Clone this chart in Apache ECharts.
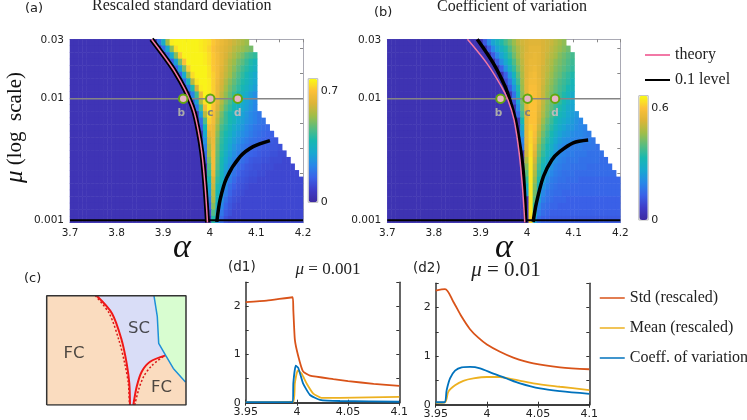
<!DOCTYPE html>
<html>
<head>
<meta charset="utf-8">
<style>html,body{margin:0;padding:0;background:#fff}#main{width:747px;height:420px}</style>
<script src="https://cdn.jsdelivr.net/npm/echarts@6/dist/echarts.min.js"></script>
</head>
<body>
<div id="main"></div>
<script>
// heat map grid: 56 alpha columns, 28 mu rows (row 0 = top). values are hundredths
var colCount = 56;
var rowCount = 28;
var maxA = 0.78, maxB = 0.665;

// left of the onset every cell sits on this low level
var baseA = 4;
var baseB = 3;

var startA = [21,22,23,24,25,26,27,28,29,29,30,31,31,31,32,32,32,32,32,33,33,33,33,33,33,33,33,34];
var rowsA = [
  [20,34,55,76,77,77,77,77,77,77,76,75,74,71,68,66,64,62,60,58,56,54],
  [18,32,52,74,77,77,77,77,77,76,75,73,70,67,65,63,61,58,56,54,52,50],
  [18,32,52,72,77,77,77,77,77,76,74,71,68,65,62,59,56,53,50,46,44,42],
  [16,30,50,70,77,77,77,77,76,74,71,68,65,61,57,54,50,47,43,40,37],
  [16,30,50,72,77,77,77,77,75,71,68,64,60,56,52,48,44,41,38,35],
  [16,32,54,74,77,77,77,75,72,68,63,59,55,50,46,42,38,35,32],
  [18,36,58,75,77,77,76,72,67,62,57,52,48,44,40,37,34,31],
  [20,40,62,76,77,76,72,66,61,55,50,46,42,38,35,32,29],
  [22,44,66,77,76,72,66,59,53,48,43,38,35,32,28,25],
  [12,30,56,74,76,71,64,57,50,45,40,36,33,30,27,24],
  [20,44,68,76,70,62,54,47,42,38,35,32,29,26,23],
  [30,58,75,68,59,50,43,39,36,33,30,27,24,22,20],
  [18,46,72,68,57,48,43,39,36,32,29,26,24,22,20,19],
  [14,38,68,66,54,45,41,37,33,30,27,24,22,20,19,18,17],
  [32,64,66,52,43,39,35,31,28,25,23,21,19,18,17,16,15],
  [26,60,66,50,42,37,33,29,26,23,21,19,18,17,16,15,14,13],
  [22,56,67,49,41,36,31,27,24,21,19,17,16,15,14,14,13,13,12],
  [18,54,68,48,40,34,29,25,22,19,17,16,15,14,13,13,12,12,11,11],
  [14,50,68,47,39,32,27,23,20,18,16,14,13,13,12,12,11,11,11,10,10],
  [46,68,46,38,30,25,21,18,16,14,13,12,12,11,11,11,10,10,10,10,10],
  [42,66,44,37,28,23,19,16,14,13,12,12,11,11,10,10,10,10,10,10,10,10],
  [38,62,42,35,26,21,17,14,13,12,11,11,10,10,10,10,10,10,10,10,10,10,10],
  [32,60,40,32,24,18,15,13,12,11,10,10,10,10,10,10,10,10,10,10,10,10,10],
  [28,58,38,29,21,16,13,12,11,10,10,10,10,10,10,10,10,10,10,10,10,10,10],
  [22,56,36,26,18,14,12,11,10,10,10,10,10,10,10,10,10,10,10,10,10,10,10],
  [16,52,34,23,16,13,11,10,10,10,10,10,10,10,10,10,10,10,10,10,10,10,10],
  [10,46,30,20,14,12,10,10,10,10,10,10,10,10,10,10,10,10,10,10,10,10,10],
  [40,26,17,12,10,10,10,10,10,10,10,10,10,10,10,10,10,10,10,10,10,10]
];

var startB = [23,24,25,26,27,28,28,29,30,30,31,31,32,32,32,32,32,33,33,33,33,33,33,33,34,34,34,34];
var rowsB = [
  [12,20,26,30,34,38,42,46,50,52,53,54,54,54,53,52,51,49,47,45],
  [12,20,26,30,34,39,44,48,51,53,55,55,55,53,52,50,48,46,44,42],
  [12,20,26,31,36,42,47,51,54,55,56,55,53,51,49,47,44,42,40,38],
  [12,21,27,33,39,45,50,54,56,56,55,53,50,48,45,43,41,39,37],
  [13,22,29,36,43,49,54,56,57,55,52,50,47,44,42,40,38,36],
  [13,23,31,40,48,54,57,58,55,52,49,46,43,41,38,36,34],
  [9,17,27,37,47,55,58,58,56,52,48,45,42,39,37,35,32],
  [12,22,34,46,55,59,59,56,51,47,44,41,38,36,33,31],
  [16,30,45,55,60,59,56,51,46,43,40,37,34,31,28],
  [11,26,43,55,60,60,56,50,45,42,39,36,33,30,27],
  [21,41,55,60,60,55,49,44,41,37,34,31,28,26],
  [15,38,55,60,60,54,48,43,39,35,32,30,27,25,23],
  [33,55,60,60,53,46,41,37,33,30,28,26,24,22,20],
  [28,55,61,60,51,44,39,35,31,28,26,24,23,21,20,19],
  [24,55,62,59,49,42,37,33,29,26,24,23,21,20,20,19,18],
  [20,55,62,58,47,40,35,31,27,24,22,21,20,19,19,18,18,17],
  [18,54,63,56,44,38,33,29,25,22,20,19,18,18,18,17,17,17,16],
  [52,63,54,42,36,31,27,23,20,19,18,18,17,17,17,16,16,16,16],
  [48,64,52,40,34,29,24,21,19,18,17,17,17,16,16,16,16,16,15,15],
  [44,64,50,38,32,27,22,19,18,17,17,16,16,16,16,15,15,15,15,15,15],
  [40,64,48,36,29,24,20,18,17,16,16,16,15,15,15,15,15,15,15,15,15,15],
  [36,64,46,34,26,21,18,17,16,16,15,15,15,14,14,14,14,14,14,14,14,14,14],
  [30,64,44,31,23,19,17,16,15,15,15,14,14,14,14,14,14,14,14,14,14,14,14],
  [24,64,42,28,20,17,16,15,15,14,14,14,14,14,14,14,14,14,14,14,14,14,14],
  [64,40,24,18,16,15,14,14,14,13,13,13,13,13,13,13,13,13,13,13,13,13],
  [64,36,20,16,15,14,14,13,13,13,13,13,13,13,13,13,13,13,13,13,13,13],
  [64,32,18,15,14,13,13,13,13,13,13,13,13,13,13,13,13,13,13,13,13,13],
  [62,26,15,13,13,12,12,12,12,12,12,12,12,12,12,12,12,12,12,12,12,12]
];

var heatColors = ['#3e2ba0','#3f3dc8','#3a62e8','#2888e8','#18a8d0','#18b8b0','#58bc80','#a0bd48','#dcb438','#fcc038','#f9fb15'];

// curves in (a), (b)
var theoryAlphaA = [3.875,3.903,3.925,3.947,3.965,3.975,3.983,3.99,3.995];
var theoryMuA = [0.0308,0.0221,0.0167,0.0118,0.00807,0.00553,0.00357,0.00188,0.00096];
var levelAlphaA = [4.015,4.022,4.036,4.065,4.093,4.129];
var levelMuA = [0.00097,0.00147,0.00223,0.00333,0.00403,0.00452];

var theoryAlphaB = [3.872,3.913,3.945,3.959,3.972,3.983,3.99,3.995];
var theoryMuB = [0.0308,0.0197,0.01256,0.00976,0.00668,0.00357,0.00188,0.00096];
var blackAlphaB = [3.893,3.927,3.953,3.963,3.975,3.985,3.992,3.997];
var blackMuB = [0.0308,0.0197,0.01256,0.00976,0.00668,0.00403,0.00245,0.00096];
var levelAlphaB = [4.013,4.02,4.035,4.053,4.07,4.099,4.131];
var levelMuB = [0.00097,0.00139,0.00229,0.00313,0.00366,0.00433,0.00457];

var sliceAlpha = [3.7,4.2];
var markAlpha = [3.943,4.001,4.06];
var markNames = ['b','c','d'];
var markColors = ['#aaaaaa','#808080','#bbbbbb'];
var muTicks = [0.001,0.01,0.03];
var muRightTicks = [-2.617,-2.411,-2.206,-2,-1.794,-1.589]; // log10 mu, gray ticks on the right edge

// schematic (c), both axes 0..100
var cRegions = [
  {color:'#fadcbf', pts:[[0,0],[59.8,0],[59.3,19.8],[57.4,38.1],[53.8,59.5],[46.9,83.8],[35.9,100],[0,100]]},
  {color:'#d9ddf7', pts:[[59.8,0],[62.2,0],[64.6,16.8],[68.2,30.5],[74.2,39.6],[85.4,45.4],[80.4,56.4],[79.4,80.8],[77,100],[35.9,100],[46.9,83.8],[53.8,59.5],[57.4,38.1],[59.3,19.8]]},
  {color:'#fadcbf', pts:[[62.2,0],[100,0],[100,21],[90.9,33.5],[85.4,45.4],[74.2,39.6],[68.2,30.5],[64.6,16.8]]},
  {color:'#d8fdd0', pts:[[77,100],[100,100],[100,21],[90.9,33.5],[85.4,45.4],[80.4,56.4],[79.4,80.8]]}
];
var cRedLeft = [[35.9,100],[46.9,83.8],[53.8,59.5],[57.4,38.1],[59.3,19.8],[59.8,0]];
var cRedLeftDash = [[34.9,100],[44.9,83.8],[51.8,59.5],[56,38.1],[58.6,19.8],[59.4,0]];
var cRedRight = [[62.2,0],[64.6,16.8],[68.2,30.5],[74.2,39.6],[85.4,45.4]];
var cRedRightDash = [[63.2,0],[66,14],[69.6,26],[75.4,36],[84,44.6]];
var cBlue = [[77,100],[79.4,80.8],[80.4,56.4],[85.4,45.4],[90.9,33.5],[99.6,21]];
var cBox = [[0,0],[100,0],[100,100],[0,100],[0,0]];
var cLabels = [['FC',19.6,46.9],['SC',66.3,69.5],['FC',82.5,15.8]];

// (d1) mu = 0.001
var d1StdX = [3.95,3.9705,3.9959,3.9965,3.998,4.0014,4.006,4.0128,4.0356,4.05,4.075,4.1];
var d1StdY = [2.09,2.12,2.19,1.93,1.31,0.96,0.65,0.56,0.49,0.45,0.39,0.35];
var d1MeanX = [3.95,3.9965,3.998,4.0008,4.0047,4.0095,4.016,4.024,4.042,4.1];
var d1MeanY = [0.01,0.02,0.40,0.67,0.60,0.40,0.19,0.10,0.10,0.12];
var d1CovX = [3.95,3.996,3.9965,3.9988,4.0014,4.006,4.0128,4.0226,4.042,4.1];
var d1CovY = [0.01,0.01,0.40,0.77,0.72,0.40,0.16,0.06,0.035,0.02];

// (d2) mu = 0.01
var d2StdX = [3.95,3.9591,3.9672,3.9754,3.9835,3.9916,4.0,4.0128,4.0258,4.0453,4.0714,4.1];
var d2StdY = [2.35,2.38,2.12,1.81,1.555,1.38,1.24,1.09,0.97,0.85,0.77,0.73];
var d2MeanX = [3.95,3.9591,3.9624,3.9689,3.977,3.9868,4.0,4.0128,4.0258,4.0453,4.0714,4.1];
var d2MeanY = [0.04,0.05,0.27,0.40,0.49,0.54,0.57,0.57,0.52,0.44,0.37,0.30];
var d2CovX = [3.95,3.9585,3.9607,3.964,3.9689,3.9754,3.9835,3.9933,4.0063,4.0193,4.0323,4.0518,4.0714,4.1];
var d2CovY = [0.05,0.05,0.30,0.54,0.70,0.77,0.78,0.75,0.64,0.54,0.44,0.335,0.28,0.225];

var sans = 'DejaVu Sans';
var serif = 'Liberation Serif';
var ink = '#222';
var frame = '#a9a9b4';

function zip(xs, ys) {
  var out = [];
  for (var i = 0; i < xs.length; i++) out.push([xs[i], ys[i]]);
  return out;
}
function logPts(alpha, mu) {
  return zip(alpha, mu.map(Math.log10));
}
function heatCells(base, start, rows) {
  var cells = [];
  for (var r = 0; r < rowCount; r++) {
    for (var c = 0; c < start[r]; c++) cells.push([c, r, base / 100]);
    for (var k = 0; k < rows[r].length; k++) cells.push([start[r] + k, r, rows[r][k] / 100]);
  }
  return cells;
}
function range(n) {
  var a = [];
  for (var i = 0; i < n; i++) a.push(i);
  return a;
}

var myChart = echarts.init(document.getElementById('main'));

var grids = [
  {left:70, top:39.3, width:233, height:183.4},   // 0 heat a
  {left:70, top:39.3, width:233, height:183.4},   // 1 lines a
  {left:308.2, top:78.7, width:9.6, height:123.6, show:true, borderColor:'#b8b8b8', borderWidth:1},// 2 colorbar a
  {left:387.3, top:39.3, width:233, height:183.4},// 3 heat b
  {left:387.3, top:39.3, width:233, height:183.4},// 4 lines b
  {left:638.8, top:95.7, width:9.4, height:124.3, show:true, borderColor:'#b8b8b8', borderWidth:1},// 5 colorbar b
  {left:46.7, top:295.7, width:139.3, height:109.3}, // 6 schematic
  {left:245.7, top:282.3, width:153.6, height:120.4},// 7 d1
  {left:435.7, top:283.3, width:153.6, height:121.4} // 8 d2
];

function hidden(o) {
  o.axisLine = {show:false}; o.axisTick = {show:false}; o.axisLabel = {show:false}; o.splitLine = {show:false};
  return o;
}
function alphaAxis(idx, nudge) {
  return {
    type:'value', gridIndex:idx, min:3.7, max:4.2, interval:0.1,
    name:'α', nameLocation:'middle', nameGap:8, nameMoveOverlap:false,
    nameTextStyle:{fontFamily:serif, fontStyle:'italic', fontSize:34, color:'#111', padding:[0,nudge,0,0]},
    axisLine:{lineStyle:{color:frame, width:1}}, axisTick:{show:false}, splitLine:{show:false},
    axisLabel:{fontFamily:sans, fontSize:10.5, color:ink, margin:5, formatter:function(v){return v.toFixed(v===4?0:1);}}
  };
}
function alphaTop(idx) {
  return {
    type:'value', gridIndex:idx, position:'top', min:3.7, max:4.2, interval:0.05,
    axisLine:{lineStyle:{color:frame, width:1}}, axisLabel:{show:false}, splitLine:{show:false},
    axisTick:{inside:true, length:3, lineStyle:{color:'#888'}}
  };
}
function muAxis(idx, withName) {
  var o = {
    type:'value', gridIndex:idx, min:-3.02, max:-1.512,
    axisLine:{show:false}, axisTick:{show:false}, splitLine:{show:false},
    axisLabel:{fontFamily:sans, fontSize:10.5, color:ink, margin:6,
      customValues:muTicks.map(Math.log10),
      formatter:function(v){return String(+Math.pow(10,v).toPrecision(1));}}
  };
  if (withName) {
    o.name = '{m|μ} (log  scale)';
    o.nameLocation = 'middle';
    o.nameGap = 42;
    o.nameRotate = 90;
    o.nameTextStyle = {fontFamily:serif, fontSize:21, color:'#111', padding:[0,0,0,7], rich:{m:{fontFamily:serif, fontStyle:'italic', fontSize:25, color:'#111'}}};
  }
  return o;
}
function muRight(idx) {
  return {
    type:'value', gridIndex:idx, position:'right', min:-3.02, max:-1.512,
    axisLine:{lineStyle:{color:frame, width:1}}, axisLabel:{show:false}, splitLine:{show:false},
    axisTick:{inside:true, length:3, customValues:muRightTicks, lineStyle:{color:'#888'}}
  };
}
function barAxis(idx, max, label) {
  return {
    type:'value', gridIndex:idx, position:'right', min:0, max:max,
    axisLine:{show:false}, axisTick:{show:false}, splitLine:{show:false},
    axisLabel:{fontFamily:sans, fontSize:11, color:ink, margin:3, customValues:[0,label]}
  };
}
function boxX(idx, top) {
  var o = {
    type:'value', gridIndex:idx, min:3.95, max:4.1, interval:0.05,
    position: top ? 'top' : 'bottom',
    axisLine:{lineStyle:{color:'#333', width:1.5}}, splitLine:{show:false},
    axisTick:{inside:true, length:3, lineStyle:{color:'#333'}},
    axisLabel:{show:!top, fontFamily:sans, fontSize:11, color:ink, margin:4, showMinLabel:true, showMaxLabel:true,
      formatter:function(v){return String(+v.toFixed(2));}}
  };
  return o;
}
function boxY(idx, right) {
  return {
    type:'value', gridIndex:idx, min:0, max:2.5, interval:0.5,
    position: right ? 'right' : 'left',
    axisLine:{lineStyle:{color:'#333', width:1.5}}, splitLine:{show:false},
    axisTick:{inside:true, length:3, lineStyle:{color:'#333'}},
    axisLabel:{show:!right, fontFamily:sans, fontSize:11, color:ink, margin:5,
      formatter:function(v){return v % 1 === 0 ? String(v) : '';}}
  };
}

var xAxes = [
  hidden({type:'category', gridIndex:0, data:range(colCount)}), // 0
  alphaAxis(1,9),                                               // 1
  alphaTop(1),                                                  // 2
  hidden({type:'value', gridIndex:2, min:0, max:1}),            // 3
  hidden({type:'category', gridIndex:3, data:range(colCount)}), // 4
  alphaAxis(4,0),                                               // 5
  alphaTop(4),                                                  // 6
  hidden({type:'value', gridIndex:5, min:0, max:1}),            // 7
  hidden({type:'value', gridIndex:6, min:0, max:100}),          // 8
  boxX(7,false), boxX(7,true),                                  // 9 10
  boxX(8,false), boxX(8,true)                                   // 11 12
];
var yAxes = [
  hidden({type:'category', gridIndex:0, inverse:true, data:range(rowCount)}), // 0
  muAxis(1,true),                                                             // 1
  muRight(1),                                                                 // 2
  barAxis(2,maxA,0.7),                                                        // 3
  hidden({type:'category', gridIndex:3, inverse:true, data:range(rowCount)}), // 4
  muAxis(4,false),                                                            // 5
  muRight(4),                                                                 // 6
  barAxis(5,maxB,0.6),                                                        // 7
  hidden({type:'value', gridIndex:6, min:0, max:100}),                        // 8
  boxY(7,false), boxY(7,true),                                                // 9 10
  boxY(8,false), boxY(8,true)                                                 // 11 12
];

function curve(name, x, y, data, color, width, extra) {
  var s = {
    name:name, type:'line', xAxisIndex:x, yAxisIndex:y, data:data, symbol:'none',
    lineStyle:{color:color, width:width}, itemStyle:{color:color}, silent:true, animation:false, z:5
  };
  for (var k in extra) s[k] = extra[k];
  return s;
}
function marks(x, y) {
  return {
    type:'scatter', xAxisIndex:x, yAxisIndex:y, symbolSize:8.5, z:7, silent:true, animation:false,
    itemStyle:{color:'#e8b4c4', borderColor:'#62a80e', borderWidth:2, opacity:1},
    data:markAlpha.map(function(a,i){
      return {
        value:[a, Math.log10(0.01)],
        label:{show:true, position:'bottom', distance:4, formatter:markNames[i], fontFamily:sans, fontWeight:'bold', fontSize:10.5,
          color:markColors[i], offset:[i === 0 ? -2 : 0, 0]}
      };
    })
  };
}
function sliceLine(x, y) {
  return curve('slice', x, y, zip(sliceAlpha, [Math.log10(0.01), Math.log10(0.01)]), '#858585', 1.5, {z:4});
}

var series = [
  {name:'std', type:'heatmap', xAxisIndex:0, yAxisIndex:0, data:heatCells(baseA,startA,rowsA), silent:true, animation:false, progressive:0, z:2},
  {name:'cov', type:'heatmap', xAxisIndex:4, yAxisIndex:4, data:heatCells(baseB,startB,rowsB), silent:true, animation:false, progressive:0, z:2},

  sliceLine(1,1),
  curve('0.1 level',1,1,logPts(theoryAlphaA,theoryMuA),'#000',5,{smooth:0.3}),
  curve('theory',1,1,logPts(theoryAlphaA,theoryMuA),'#f278a6',1.5,{smooth:0.3,z:6}),
  curve('0.1 level',1,1,logPts(levelAlphaA,levelMuA),'#000',3.5,{smooth:0.3}),
  curve('0.1 level',1,1,zip(sliceAlpha,[Math.log10(0.001),Math.log10(0.001)]),'#000',1.8),
  marks(1,1),

  sliceLine(5,5),
  curve('theory',5,5,logPts(theoryAlphaB,theoryMuB),'#f278a6',1.5,{smooth:0.3,z:6}),
  curve('0.1 level',5,5,logPts(blackAlphaB,blackMuB),'#000',3.5,{smooth:0.3}),
  curve('0.1 level',5,5,logPts(levelAlphaB,levelMuB),'#000',3.5,{smooth:0.3}),
  curve('0.1 level',5,5,zip(sliceAlpha,[Math.log10(0.001),Math.log10(0.001)]),'#000',1.8),
  marks(5,5),

  {
    type:'custom', xAxisIndex:8, yAxisIndex:8, silent:true, animation:false, z:2,
    data:range(cRegions.length),
    renderItem:function(params, api){
      var region = cRegions[params.dataIndex];
      return {type:'polygon', shape:{points:region.pts.map(function(p){return api.coord(p);})}, style:{fill:region.color}};
    }
  },
  curve('',8,8,cRedLeftDash,'#d81818',1.5,{smooth:0.3,lineStyle:{color:'#d81818',width:1.5,type:[2,2]}}),
  curve('',8,8,cRedLeft,'#f01818',2,{smooth:0.3}),
  curve('',8,8,cRedRightDash,'#d81818',1.5,{smooth:0.3,lineStyle:{color:'#d81818',width:1.5,type:[2,2]}}),
  curve('',8,8,cRedRight,'#f01818',2,{smooth:0.3}),
  curve('',8,8,cBlue,'#1f8fd8',1.5),
  curve('',8,8,cBox,'#333',1.5,{z:6}),
  {
    type:'scatter', xAxisIndex:8, yAxisIndex:8, symbolSize:0, silent:true, animation:false, z:7,
    data:cLabels.map(function(l){
      return {value:[l[1],l[2]], label:{show:true, position:'inside', formatter:l[0], fontFamily:sans, fontSize:16.5, color:'#222'}};
    })
  },

  curve('Std (rescaled)',9,9,zip(d1StdX,d1StdY),'#d95319',1.8,{smooth:0.15}),
  curve('Mean (rescaled)',9,9,zip(d1MeanX,d1MeanY),'#edb120',1.8,{smooth:0.15}),
  curve('Coeff. of variation',9,9,zip(d1CovX,d1CovY),'#0072bd',1.8,{smooth:0.15}),

  curve('Std (rescaled)',11,11,zip(d2StdX,d2StdY),'#d95319',1.8,{smooth:0.3}),
  curve('Mean (rescaled)',11,11,zip(d2MeanX,d2MeanY),'#edb120',1.8,{smooth:0.3}),
  curve('Coeff. of variation',11,11,zip(d2CovX,d2CovY),'#0072bd',1.8,{smooth:0.3})
];

function label(text, x, y, font, size) {
  return {text:text, left:x, top:y, padding:0, textStyle:{fontFamily:font, fontSize:size, fontWeight:'normal', color:'#222'}};
}
function muTitle(val, x, y, size) {
  return {
    text:'{m|μ} = ' + val, left:x, top:y, padding:0, textAlign:'center',
    textStyle:{fontFamily:serif, fontSize:size, fontWeight:'normal', color:'#222',
      rich:{m:{fontFamily:serif, fontStyle:'italic', fontSize:size, color:'#222'}}}
  };
}

myChart.setOption({
  animation:false,
  title:[
    label('(a)',25,2,sans,13),
    label('Rescaled standard deviation',92,-2,serif,16),
    label('(b)',374,6,sans,13),
    label('Coefficient of variation',437,-1,serif,16),
    label('(c)',24,272,sans,13),
    label('(d1)',228,260,sans,13.5),
    label('(d2)',413,261,sans,13.5),
    muTitle('0.001',328,261,17),
    muTitle('0.01',506,260,21)
  ],
  grid:grids,
  xAxis:xAxes,
  yAxis:yAxes,
  visualMap:[
    {type:'continuous', seriesIndex:0, dimension:2, min:0, max:maxA, calculable:false, show:true, realtime:false, hoverLink:false,
      left:308.7, top:78.7, itemWidth:8.6, itemHeight:123.6, padding:0, text:null, showLabel:false,
      inRange:{color:heatColors}, borderWidth:0},
    {type:'continuous', seriesIndex:1, dimension:2, min:0, max:maxB, calculable:false, show:true, realtime:false, hoverLink:false,
      left:639.3, top:95.7, itemWidth:8.4, itemHeight:124.3, padding:0, text:null, showLabel:false,
      inRange:{color:heatColors}, borderWidth:0}
  ],
  legend:[
    {data:['theory','0.1 level'], orient:'vertical', left:644, top:47, itemWidth:25, itemHeight:14, itemGap:9, padding:0,
      selectedMode:false, textStyle:{fontFamily:serif, fontSize:16, color:'#222'}, lineStyle:{width:2}, itemStyle:{opacity:0}},
    {data:['Std (rescaled)','Mean (rescaled)','Coeff. of variation'], orient:'vertical', left:599, top:290, itemWidth:25, itemHeight:14, itemGap:14, padding:0,
      selectedMode:false, textStyle:{fontFamily:serif, fontSize:16, color:'#222'}, lineStyle:{width:1.5}, itemStyle:{opacity:0}}
  ],
  series:series
});
</script>
</body>
</html>
